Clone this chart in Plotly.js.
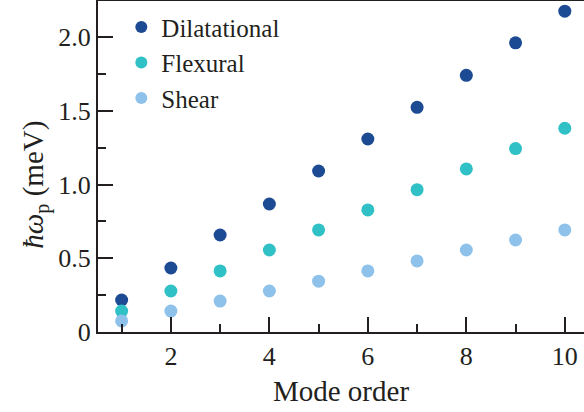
<!DOCTYPE html>
<html>
<head>
<meta charset="utf-8">
<script src="https://cdn.plot.ly/plotly-3.0.1.min.js"></script>
<style>
html,body{margin:0;padding:0;background:#fff;}
#chart{width:584px;height:412px;}
#chart svg text{font-family:"Liberation Serif","Times New Roman",serif !important;}
</style>
</head>
<body>
<div id="chart"></div>
<script>
const modeOrder = [1, 2, 3, 4, 5, 6, 7, 8, 9, 10];
const dilatational = [0.217, 0.434, 0.658, 0.868, 1.092, 1.309, 1.524, 1.741, 1.961, 2.176];
const flexural = [0.142, 0.278, 0.414, 0.556, 0.692, 0.828, 0.965, 1.106, 1.244, 1.382];
const shear = [0.075, 0.142, 0.210, 0.278, 0.345, 0.414, 0.482, 0.556, 0.624, 0.692];
const seriesNames = ["Dilatational", "Flexural", "Shear"];
const xTickVals = [2, 4, 6, 8, 10];
const xTickText = ["2", "4", "6", "8", "10"];
const yTickVals = [0, 0.5, 1.0, 1.5, 2.0];
const yTickText = ["0", "0.5", "1.0", "1.5", "2.0"];

const colors = ["#1c4b94", "#2fc1c5", "#8fc2ea"];
const serif = "Liberation Serif";
const ink = "#231f20";

const series = [dilatational, flexural, shear];
const data = series.map((ys, i) => ({
  x: modeOrder, y: ys, type: "scatter", mode: "markers", name: seriesNames[i],
  marker: {color: colors[i], size: 13, line: {width: 0}}
}));

const layout = {
  width: 584, height: 412,
  margin: {l: 98, r: 0, t: 1, b: 80},
  paper_bgcolor: "#fff", plot_bgcolor: "#fff",
  font: {family: serif, color: ink, size: 26},
  showlegend: true,
  legend: {x: 0.048, y: 0.99, xanchor: "left", yanchor: "top", bgcolor: "rgba(0,0,0,0)",
           font: {family: serif, size: 25, color: ink}, itemsizing: "constant", tracegroupgap: 0},
  xaxis: {
    range: [0.52, 10.39], showgrid: false, zeroline: false,
    showline: true, linecolor: ink, linewidth: 2, mirror: true,
    tickmode: "array", tickvals: xTickVals, ticktext: xTickText,
    ticks: "inside", ticklen: 15, tickwidth: 2, tickcolor: ink,
    tickfont: {family: serif, size: 26, color: ink},
    minor: {dtick: 1, tick0: 1, ticks: "inside", ticklen: 8, tickwidth: 2, tickcolor: ink, showgrid: false},
    title: {text: "Mode order", font: {family: serif, size: 29, color: ink}, standoff: 10}
  },
  yaxis: {
    range: [0, 2.245], showgrid: false, zeroline: false,
    showline: true, linecolor: ink, linewidth: 2, mirror: false,
    tickmode: "array", tickvals: yTickVals, ticktext: yTickText,
    ticks: "inside", ticklen: 15, tickwidth: 2, tickcolor: ink,
    tickfont: {family: serif, size: 26, color: ink},
    minor: {dtick: 0.25, tick0: 0, ticks: "inside", ticklen: 8, tickwidth: 2, tickcolor: ink, showgrid: false},
    title: {text: "<i>ħω</i><sub>p</sub> (meV)&nbsp;&nbsp;&nbsp;&nbsp;&nbsp;", font: {family: serif, size: 29, color: ink}, standoff: 6}
  }
};

Plotly.newPlot("chart", data, layout, {displayModeBar: false, staticPlot: true});
</script>
</body>
</html>
